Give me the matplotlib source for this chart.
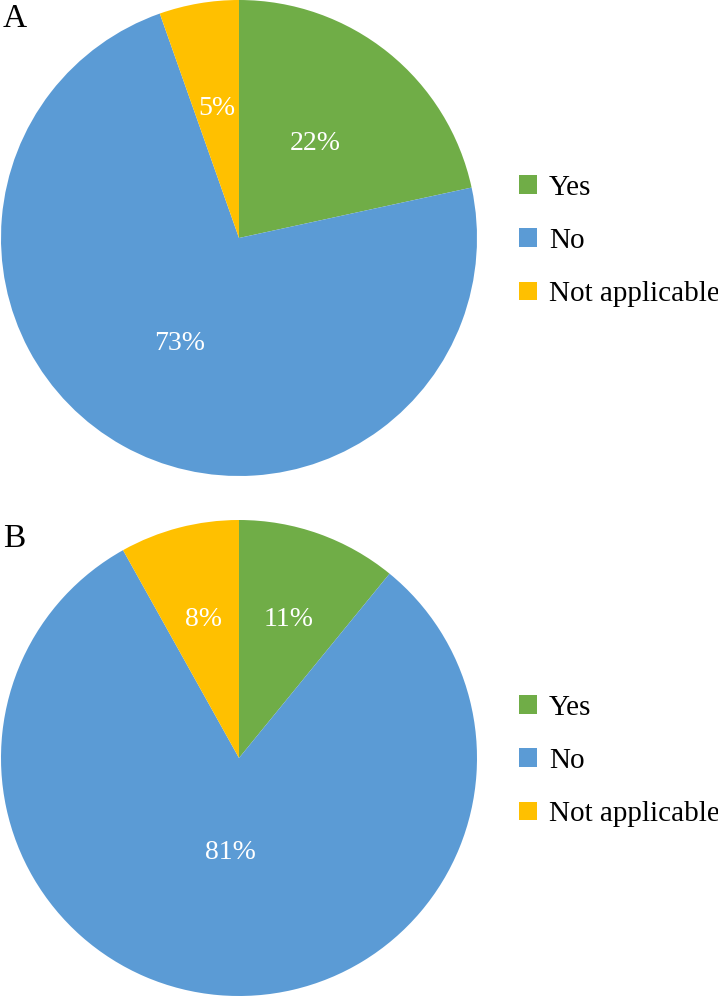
import matplotlib.pyplot as plt
from matplotlib.patches import Patch

# answers, shares (percent)
labels = ['Yes', 'No', 'Not applicable']
values_a = [21.6, 73.0, 5.4]
values_b = [10.9, 81.0, 8.1]
colors = ['#70AD47', '#5B9BD5', '#FFC000']

# how far from the centre each percent label sits (fraction of radius)
dist_a = [0.51, 0.51, 0.55]
dist_b = [0.62, 0.40, 0.60]

plt.rcParams['font.family'] = ['Liberation Serif', 'DejaVu Serif']

W, H = 718, 997
fig = plt.figure(figsize=(W / 100, H / 100), dpi=100)

def draw(values, dists, cy, letter):
    r = 238
    ax = fig.add_axes([(239 - r) / W, 1 - (cy + r) / H, 2 * r / W, 2 * r / H])
    wedges, texts, autotexts = ax.pie(values, colors=colors, startangle=90,
                                      counterclock=False, autopct='%.0f%%',
                                      pctdistance=0.55,
                                      textprops=dict(color='white', fontsize=20))
    # move each label along its own wedge's bisector
    for t, d in zip(autotexts, dists):
        x, y = t.get_position()
        s = (x * x + y * y) ** 0.5
        t.set_position((x / s * d, y / s * d))
    ax.set_aspect('equal')
    ax.set_xlim(-1, 1)
    ax.set_ylim(-1, 1)
    handles = [Patch(facecolor=c, edgecolor='none') for c in colors]
    fig.legend(handles, labels, loc='center left',
               bbox_to_anchor=(519 / W, 1 - (cy + 3) / H), frameon=False,
               fontsize=21, handlelength=0.6, handleheight=0.6,
               handletextpad=0.42, labelspacing=0.93, borderpad=0,
               borderaxespad=0)
    fig.text(3 / W, 1 - (cy - 238 + 27) / H, letter, fontsize=24,
             va='baseline', ha='left')

draw(values_a, dist_a, 238, 'A')
draw(values_b, dist_b, 758, 'B')

fig.savefig('out.png', dpi=100)
